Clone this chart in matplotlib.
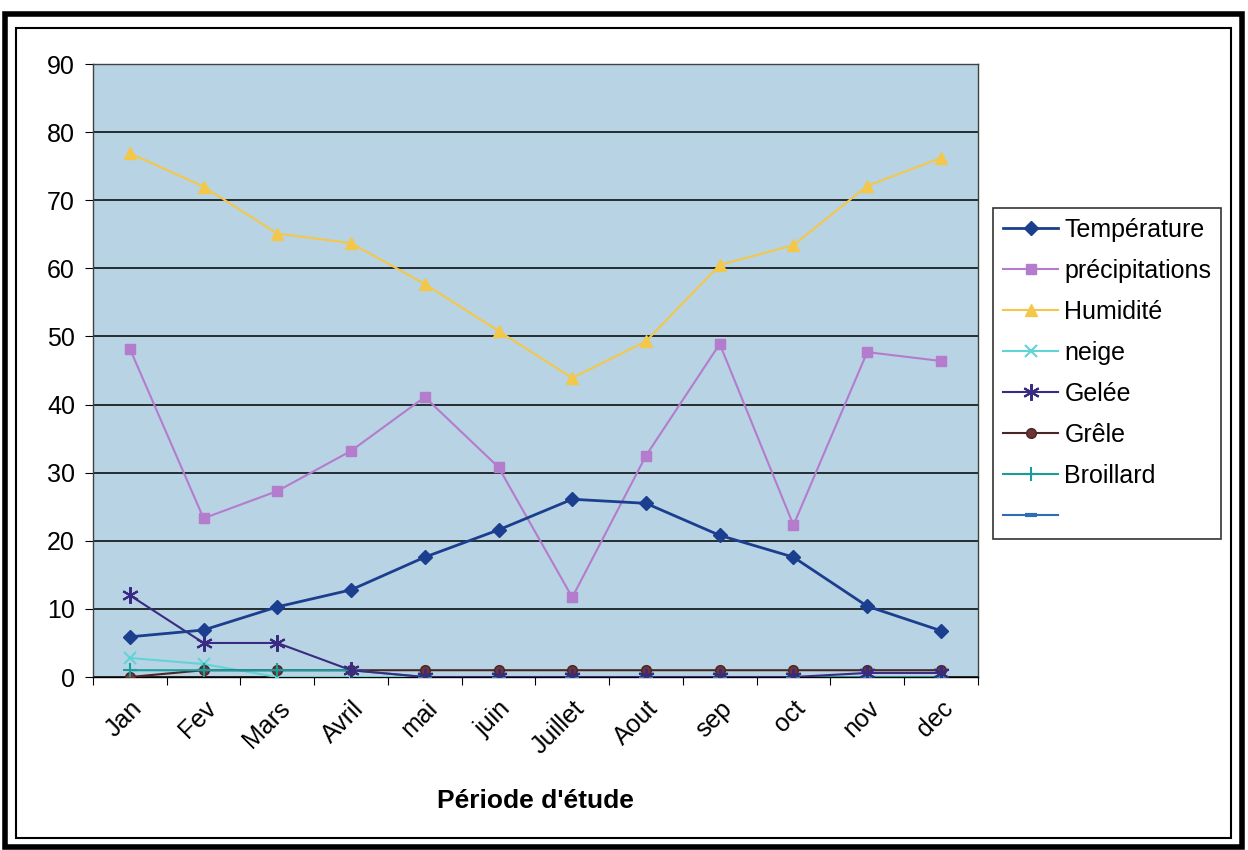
"""
Climate chart - periode d'etude
"""
import numpy as np
import matplotlib.pyplot as plt
from matplotlib.patches import Rectangle

plt.rcParams['font.family'] = ['Liberation Sans', 'DejaVu Sans']

months = ["Jan", "Fev", "Mars", "Avril", "mai", "juin", "Juillet", "Aout", "sep", "oct", "nov", "dec"]

temperature = [5.9, 6.9, 10.3, 12.8, 17.6, 21.6, 26.1, 25.5, 20.8, 17.6, 10.4, 6.8]
precipitations = [48.2, 23.3, 27.3, 33.2, 41.1, 30.8, 11.7, 32.5, 48.9, 22.3, 47.7, 46.4]
humidite = [76.9, 72.0, 65.1, 63.7, 57.7, 50.8, 43.9, 49.3, 60.5, 63.4, 72.1, 76.2]
neige = [2.8, 1.9, 0, 0, 0, 0, 0, 0, 0, 0, 0, 0]
gelee = [12, 5, 5, 1, 0, 0, 0, 0, 0, 0, 0.6, 0.6]
grele = [0, 1, 1, 1, 1, 1, 1, 1, 1, 1, 1, 1]
broillard = [1, 1, 1, 1, 0, 0, 0, 0, 0, 0, 0, 0]

fig = plt.figure(figsize=(12.48, 8.5), dpi=100)

# borders of the scanned chart
fig.patches.append(Rectangle((0.004, 0.003), 0.991, 0.981, transform=fig.transFigure,
                             fill=False, lw=4, ec="black"))
fig.patches.append(Rectangle((0.013, 0.014), 0.973, 0.953, transform=fig.transFigure,
                             fill=False, lw=1.5, ec="black"))

ax = fig.add_axes([0.0745, 0.2035, 0.709, 0.7212])
ax.set_facecolor("#b8d3e3")

x = np.arange(len(months))
ax.plot(x, temperature, "-D", color="#1b3e8e", lw=2, ms=7, label="Température", zorder=5)
ax.plot(x, precipitations, "-s", color="#b47ccd", lw=1.5, ms=7, label="précipitations", zorder=4)
ax.plot(x, humidite, "-^", color="#f3c84a", lw=1.5, ms=9, label="Humidité", zorder=4)
ax.plot(x, neige, "-x", color="#62d3d6", lw=1.5, ms=8, mew=1.5, label="neige", zorder=3)
ax.plot(x, gelee, "-", marker=(6, 2, 0), color="#3a2b82", lw=1.5, ms=12, mew=1.5, label="Gelée", zorder=4)
ax.plot(x, grele, "-o", color="#4a2626", mfc="#6e3535", lw=1.5, ms=7, label="Grêle", zorder=3)
ax.plot(x, broillard, "-+", color="#1a9c9c", lw=1.5, ms=10, mew=1.5, label="Broillard", zorder=3)
ax.plot([], [], "-", marker="_", color="#2e6db4", lw=1.5, ms=8, mew=3, label=" ")

ax.set_xlim(-0.5, 11.5)
ax.set_ylim(0, 90)
ax.set_yticks(range(0, 91, 10))
ax.yaxis.grid(True, color="black", lw=1.1)
ax.set_axisbelow(True)

ax.set_xticks(np.arange(-0.5, 12, 1))
ax.set_xticklabels([])
ax.set_xticks(x, minor=True)
ax.set_xticklabels(months, minor=True, rotation=45, ha="right", va="top",
                   rotation_mode="anchor", fontsize=18)
ax.tick_params(axis="x", which="minor", length=0, pad=14)
ax.tick_params(axis="x", which="major", length=6, direction="out")
ax.tick_params(axis="y", length=6, direction="out", labelsize=18, pad=7)

for s in ax.spines.values():
    s.set_color("#404040")
    s.set_linewidth(1)
ax.spines["bottom"].set_color("black")

ax.set_xlabel("Période d'étude", fontsize=19, fontweight="bold", labelpad=22)

leg = ax.legend(loc="upper left", bbox_to_anchor=(0.7957, 0.7553),
                bbox_transform=fig.transFigure, borderaxespad=0, fontsize=18,
                frameon=True, fancybox=False, edgecolor="black", handlelength=2.2,
                labelspacing=0.68, borderpad=0.4, handletextpad=0.25)
leg.get_frame().set_linewidth(1.2)

fig.savefig("out.png", dpi=100)
